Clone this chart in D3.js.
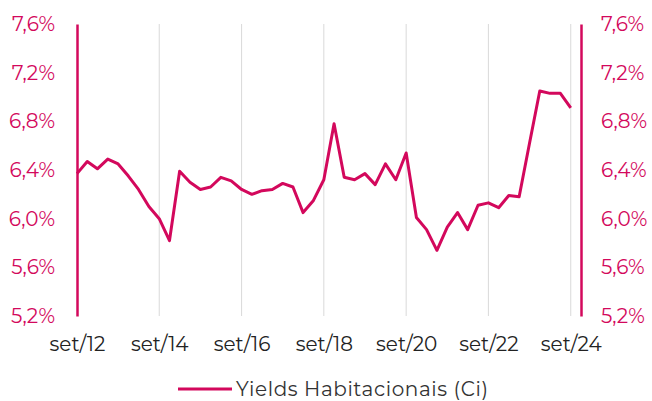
<!DOCTYPE html>
<html>
<head>
<meta charset="utf-8">
<script src="https://cdn.jsdelivr.net/npm/d3@7"></script>
<style>
  body { margin: 0; background: #fff; }
  text { font-family: "Montserrat", "Open Sans", sans-serif; }
</style>
</head>
<body>
<div id="chart"></div>
<script>
const width = 652;
const height = 401;
const lineColor = "#d3085c";
const gridColor = "#d9d9d9";
const labelColor = "#222";

// quarterly yields, set/12 .. set/24 (%)
const yields = [
  6.37, 6.47, 6.41, 6.49, 6.45, 6.35, 6.24, 6.10, 6.00, 5.82,
  6.39, 6.30, 6.24, 6.26, 6.34, 6.31, 6.24, 6.20, 6.23, 6.24,
  6.29, 6.26, 6.05, 6.15, 6.32, 6.78, 6.34, 6.32, 6.37, 6.28,
  6.45, 6.32, 6.54, 6.01, 5.91, 5.74, 5.93, 6.05, 5.91, 6.11,
  6.13, 6.09, 6.19, 6.18, 6.62, 7.05, 7.03, 7.03, 6.91
];
const xTickLabels = ["set/12", "set/14", "set/16", "set/18", "set/20", "set/22", "set/24"];
const yTicks = [5.2, 5.6, 6.0, 6.4, 6.8, 7.2, 7.6];
const seriesName = "Yields Habitacionais (Ci)";

const start = new Date(2012, 8, 1);
const quarters = yields.map((v, i) => d3.timeMonth.offset(start, 3 * i));
const data = quarters.map((d, i) => ({ date: d, value: yields[i] }));

const x = d3.scaleTime()
  .domain([start, new Date(2024, 11, 1)])
  .range([77, 581]);

const y = d3.scaleLinear()
  .domain([5.2, 7.6])
  .range([316, 24]);

const svg = d3.select("#chart").append("svg")
  .attr("width", width)
  .attr("height", height);

const tickDates = xTickLabels.map(s => new Date(2000 + +s.slice(4), 8, 1));

// vertical gridlines
svg.selectAll("line.grid")
  .data(tickDates.slice(1))
  .enter()
  .append("line")
  .attr("class", "grid")
  .attr("x1", d => x(d))
  .attr("x2", d => x(d))
  .attr("y1", y(7.6))
  .attr("y2", y(5.2))
  .attr("stroke", gridColor)
  .attr("stroke-width", 1);

// x labels
const xAxis = d3.axisBottom(x)
  .tickValues(tickDates)
  .tickSize(0)
  .tickPadding(0)
  .tickFormat((d, i) => xTickLabels[i]);

const gx = svg.append("g")
  .attr("transform", `translate(0,${y(5.2) + 21})`)
  .call(xAxis);
gx.select(".domain").remove();
gx.selectAll("text")
  .attr("font-size", 20)
  .attr("fill", labelColor)
  .style("font-family", "\"Montserrat\", \"Open Sans\", sans-serif");

const fmt = d => d.toFixed(1).replace(".", ",") + "%";

// left axis
const gl = svg.append("g")
  .attr("transform", `translate(${x.range()[0]},0)`)
  .call(d3.axisLeft(y).tickValues(yTicks).tickSize(0).tickPadding(22).tickFormat(fmt));
gl.select(".domain").attr("stroke", lineColor).attr("stroke-width", 2.5);

// right axis
const gr = svg.append("g")
  .attr("transform", `translate(${x.range()[1]},0)`)
  .call(d3.axisRight(y).tickValues(yTicks).tickSize(0).tickPadding(20).tickFormat(fmt));
gr.select(".domain").attr("stroke", lineColor).attr("stroke-width", 2.5);

[gl, gr].forEach(g => g.selectAll("text")
  .attr("font-size", 20)
  .attr("fill", lineColor)
  .style("font-family", "\"Montserrat\", \"Open Sans\", sans-serif"));

// series line
const line = d3.line()
  .x(d => x(d.date))
  .y(d => y(d.value));

svg.append("path")
  .datum(data)
  .attr("fill", "none")
  .attr("stroke", lineColor)
  .attr("stroke-width", 3)
  .attr("stroke-linejoin", "round")
  .attr("d", line);

// legend
const legend = svg.append("g").attr("transform", "translate(178,389)");
legend.append("line")
  .attr("x1", 0).attr("x2", 54)
  .attr("stroke", lineColor)
  .attr("stroke-width", 3);
legend.append("text")
  .attr("x", 58)
  .attr("dy", "0.33em")
  .attr("font-size", 20)
  .attr("letter-spacing", 0.6)
  .attr("fill", "#333")
  .text(seriesName);
</script>
</body>
</html>
